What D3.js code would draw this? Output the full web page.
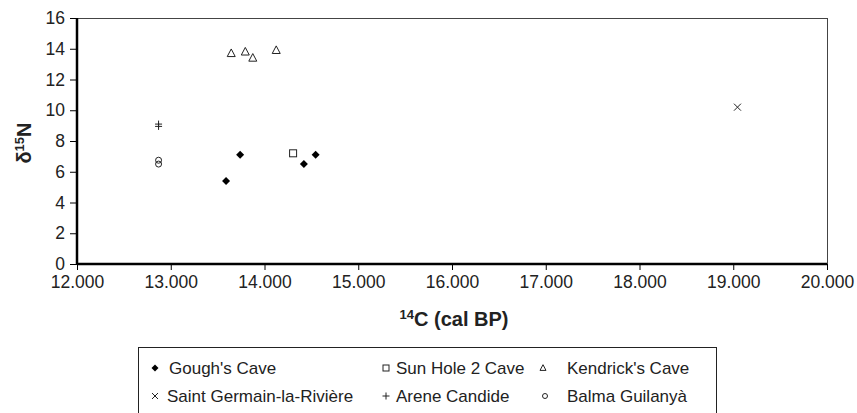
<!DOCTYPE html>
<html><head><meta charset="utf-8">
<script src="https://cdn.jsdelivr.net/npm/d3@7"></script>
<style>body{margin:0;background:#fff}svg{display:block}text{font-family:"Liberation Sans",Arial,sans-serif}</style>
</head><body><svg id="c" width="857" height="413"></svg>
<script>
const seriesNames = ["Gough's Cave","Sun Hole 2 Cave","Kendrick's Cave","Saint Germain-la-Rivière","Arene Candide","Balma Guilanyà"];
const goughX = [13590, 13740, 14420, 14545];
const goughY = [5.4, 7.1, 6.5, 7.1];
const sunHoleX = [14305];
const sunHoleY = [7.2];
const kendrickX = [13645, 13795, 13875, 14125];
const kendrickY = [13.7, 13.8, 13.4, 13.9];
const saintGermainX = [19045];
const saintGermainY = [10.2];
const areneX = [12870, 12870];
const areneY = [9.1, 8.95];
const balmaX = [12870, 12870];
const balmaY = [6.75, 6.5];
const xTicks = [12000,13000,14000,15000,16000,17000,18000,19000,20000];
const yTicks = [0,2,4,6,8,10,12,14,16];

const svg = d3.select("#c");
const L=77, R=827, T=18, B=264;
const x = d3.scaleLinear().domain([12000,20000]).range([L,R]);
const y = d3.scaleLinear().domain([0,16]).range([B,T]);

// frame top/right
svg.append("line").attr("x1",L).attr("x2",R).attr("y1",T+0.5).attr("y2",T+0.5).attr("stroke","#444").attr("stroke-width",1);
svg.append("line").attr("x1",R+0.5).attr("x2",R+0.5).attr("y1",T).attr("y2",B).attr("stroke","#444").attr("stroke-width",1);

const xAxis = svg.append("g").attr("transform",`translate(0,${B})`)
  .call(d3.axisBottom(x).tickValues(xTicks).tickFormat(d=>d3.format(",")(d).replace(/,/g,".")).tickSize(6).tickPadding(6));
const yAxis = svg.append("g").attr("transform",`translate(${L},0)`)
  .call(d3.axisLeft(y).tickValues(yTicks).tickSize(7).tickPadding(5));
[xAxis,yAxis].forEach(g=>{
  g.select(".domain").attr("stroke","#000").attr("stroke-width",2.5);
  g.selectAll(".tick line").attr("stroke","#000").attr("stroke-width",1);
  g.selectAll(".tick text").attr("font-size",17.5).attr("fill","#222").attr("font-family","'Liberation Sans',Arial,sans-serif");
});
xAxis.select(".domain").attr("d",`M${L},0H${R}`);
yAxis.select(".domain").attr("d",`M0,${T}V${B}`);

// axis titles
const xt = svg.append("text").attr("x",454).attr("y",326).attr("text-anchor","middle")
  .attr("font-size",20).attr("font-weight","bold").attr("fill","#222");
xt.append("tspan").text("14").attr("font-size",13).attr("dy",-7);
xt.append("tspan").text("C (cal BP)").attr("dy",7);
const yt = svg.append("text").attr("transform","translate(31,143) rotate(-90)").attr("text-anchor","middle")
  .attr("font-size",20).attr("font-weight","bold").attr("fill","#222");
yt.append("tspan").text("δ");
yt.append("tspan").text("15").attr("font-size",13).attr("dy",-7);
yt.append("tspan").text("N").attr("dy",7);

// marker drawing
function marker(g, type, s){
  if(type==="diamond") g.append("path").attr("d",`M0,${-s/2}L${s/2},0L0,${s/2}L${-s/2},0Z`).attr("fill","#000");
  else if(type==="square") g.append("rect").attr("x",-s/2).attr("y",-s/2).attr("width",s).attr("height",s).attr("fill","none").attr("stroke","#222").attr("stroke-width",1);
  else if(type==="triangle") g.append("path").attr("d",`M0,${-s*0.55}L${s*0.5},${s*0.4}L${-s*0.5},${s*0.4}Z`).attr("fill","none").attr("stroke","#222").attr("stroke-width",1);
  else if(type==="cross") g.append("path").attr("d",`M${-s/2},${-s/2}L${s/2},${s/2}M${s/2},${-s/2}L${-s/2},${s/2}`).attr("stroke","#222").attr("stroke-width",1);
  else if(type==="plus") g.append("path").attr("d",`M${-s/2},0L${s/2},0M0,${-s/2}L0,${s/2}`).attr("stroke","#222").attr("stroke-width",1);
  else if(type==="circle") g.append("circle").attr("r",s/2).attr("fill","none").attr("stroke","#222").attr("stroke-width",1);
}
const series = [
  {name:seriesNames[0], xs:goughX, ys:goughY, type:"diamond"},
  {name:seriesNames[1], xs:sunHoleX, ys:sunHoleY, type:"square"},
  {name:seriesNames[2], xs:kendrickX, ys:kendrickY, type:"triangle"},
  {name:seriesNames[3], xs:saintGermainX, ys:saintGermainY, type:"cross"},
  {name:seriesNames[4], xs:areneX, ys:areneY, type:"plus"},
  {name:seriesNames[5], xs:balmaX, ys:balmaY, type:"circle"}
];
const sizes = {diamond:8, square:7, triangle:8, cross:7, plus:7, circle:6};
series.forEach(s=>{
  s.xs.forEach((xv,i)=>{
    const g = svg.append("g").attr("transform",`translate(${x(xv)},${y(s.ys[i])})`);
    marker(g, s.type, sizes[s.type]);
  });
});

// legend
svg.append("rect").attr("x",138.5).attr("y",347.5).attr("width",578).attr("height",80)
  .attr("fill","none").attr("stroke","#222").attr("stroke-width",1);
const legPos = [[155,368],[386,368],[543,368],[155,396],[386,396],[545,396]];
const legText = [169,396,567,167,396,567];
const legSizes = {diamond:7, square:6, triangle:6, cross:6, plus:7, circle:5};
series.forEach((s,i)=>{
  const [lx,ly] = legPos[i];
  const g = svg.append("g").attr("transform",`translate(${lx},${ly})`);
  marker(g, s.type, legSizes[s.type]);
  svg.append("text").attr("x",legText[i]).attr("y",ly+6).attr("font-size",17).attr("fill","#222").text(s.name);
});
</script></body></html>
